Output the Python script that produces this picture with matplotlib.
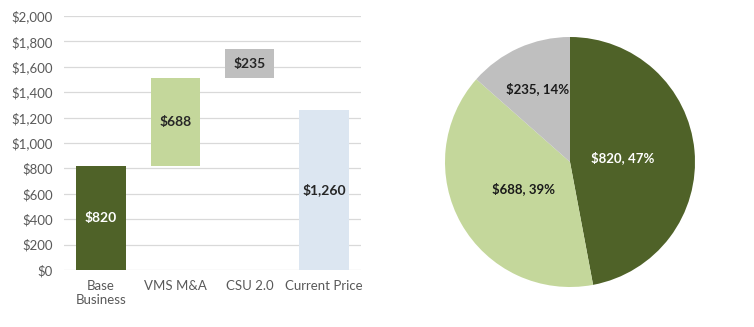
import matplotlib
matplotlib.use("Agg")
import matplotlib.pyplot as plt
import numpy as np

plt.rcParams['font.family'] = ['Lato', 'DejaVu Sans']

categories = ["Base\nBusiness", "VMS M&A", "CSU 2.0", "Current Price"]
values = [820, 688, 235, 1260]
is_total = [False, False, False, True]
bar_colors = ["#4F6228", "#C4D79B", "#BFBFBF", "#DCE6F1"]
label_colors = ["white", "#262626", "#262626", "#262626"]

pie_values = [820, 688, 235]
pie_colors = ["#4F6228", "#C4D79B", "#BFBFBF"]
pie_label_colors = ["white", "#1a1a1a", "#1a1a1a"]
y_ticks = [0, 200, 400, 600, 800, 1000, 1200, 1400, 1600, 1800, 2000]


def whole_percents(vals):
    """Integer percentages that add up to 100 (largest remainder)."""
    raw = np.array(vals, dtype=float) / sum(vals) * 100
    pct = np.floor(raw).astype(int)
    short = 100 - pct.sum()
    for i in np.argsort(-(raw - pct))[:short]:
        pct[i] += 1
    return pct


W, H = 754, 327
fig = plt.figure(figsize=(W / 100, H / 100), dpi=100)

# Waterfall chart
ax = fig.add_axes([64 / W, 1 - 270 / H, (361 - 64) / W, (270 - 16) / H])
bottoms = []
running = 0
for v, tot in zip(values, is_total):
    if tot:
        bottoms.append(0)
    else:
        bottoms.append(running)
        running += v
x = np.arange(len(values))
ax.bar(x, values, bottom=bottoms, width=0.67, color=bar_colors, zorder=3)
for xi, v, b, c in zip(x, values, bottoms, label_colors):
    ax.text(xi, b + v / 2, f"${v:,}", ha="center", va="center",
            color=c, fontsize=10, fontweight="bold", zorder=4)
ax.set_xlim(-0.5, len(values) - 0.5)
ax.set_ylim(0, 2000)
ax.set_yticks(y_ticks)
ax.set_yticklabels([f"${t:,}" for t in y_ticks])
ax.set_xticks(x)
ax.set_xticklabels(categories)
ax.grid(axis="y", color="#D9D9D9", linewidth=0.9, zorder=0)
for s in ax.spines.values():
    s.set_visible(False)
ax.tick_params(axis="both", length=0, colors="#595959", labelsize=9.5)
ax.tick_params(axis="y", pad=8)
ax.tick_params(axis="x", pad=7)
for lbl in ax.get_xticklabels() + ax.get_yticklabels():
    lbl.set_color("#595959")

# Pie chart
pax = fig.add_axes([445 / W, 1 - 287 / H, 250 / W, 250 / H])
wedges, _ = pax.pie(pie_values, colors=pie_colors, startangle=90,
                    counterclock=False, radius=1.0)
percents = whole_percents(pie_values)
label_r = [0.42, 0.43, 0.64]
for w, v, p, c, r in zip(wedges, pie_values, percents, pie_label_colors, label_r):
    mid = np.deg2rad((w.theta1 + w.theta2) / 2)
    pax.text(r * np.cos(mid), r * np.sin(mid), f"${v}, {p}%",
             ha="center", va="center", color=c, fontsize=9.5, fontweight="bold")
pax.set_xlim(-1, 1)
pax.set_ylim(-1, 1)
pax.set_aspect("equal")

fig.savefig("out.png", dpi=100)
